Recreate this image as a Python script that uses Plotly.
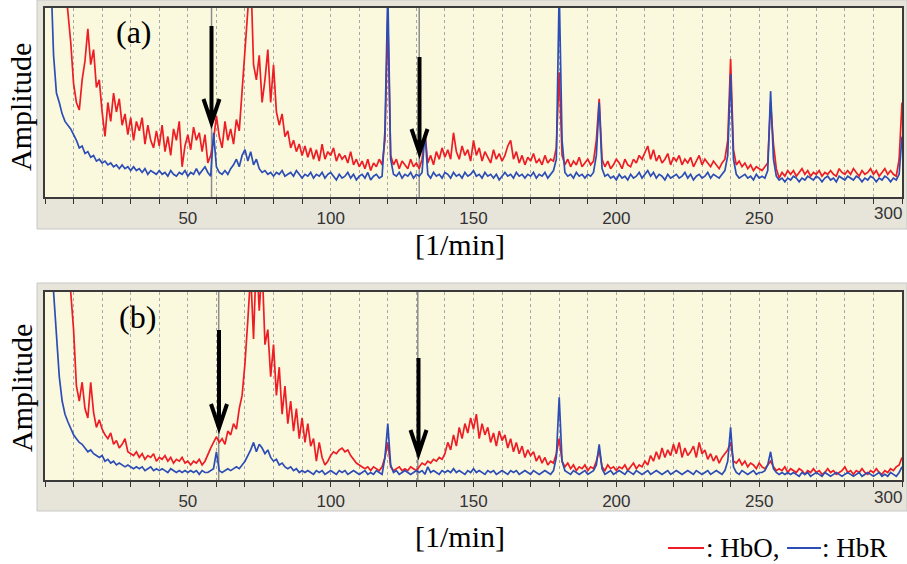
import plotly.graph_objects as go

W, H = 907, 564

# ---------------- data (normalised amplitude, 0 = axis bottom, 1 = axis top) -------------
freq = list(range(1, 301))  # [1/min]

hbo_a = [
    1.6, 1.6, 1.6, 1.5, 1.4, 1.3, 1.15, 0.98, 0.82, 0.6,
    0.5, 0.46, 0.62, 0.72, 0.89, 0.7, 0.78, 0.58, 0.62, 0.45,
    0.32, 0.5, 0.4, 0.55, 0.45, 0.52, 0.38, 0.44, 0.33, 0.42,
    0.3, 0.4, 0.35, 0.42, 0.28, 0.38, 0.3, 0.26, 0.35, 0.27,
    0.38, 0.24, 0.32, 0.22, 0.36, 0.3, 0.4, 0.16, 0.27, 0.33,
    0.25, 0.37, 0.3, 0.34, 0.24, 0.33, 0.18, 0.22, 0.3, 0.43,
    0.32, 0.26, 0.4, 0.3, 0.36, 0.28, 0.41, 0.35, 0.55, 0.8,
    0.95, 1.2, 0.7, 0.62, 0.75, 0.5, 0.62, 0.78, 0.5, 0.7,
    0.45, 0.38, 0.44, 0.32, 0.35, 0.26, 0.3, 0.24, 0.28, 0.22,
    0.27, 0.21, 0.26, 0.2, 0.25, 0.19, 0.28, 0.2, 0.24, 0.22,
    0.26, 0.19, 0.23, 0.2, 0.22, 0.18, 0.24, 0.17, 0.2, 0.16,
    0.19, 0.15, 0.2, 0.14, 0.18, 0.16, 0.2, 0.17, 0.3, 0.95,
    0.22, 0.17, 0.2, 0.15, 0.19, 0.17, 0.15, 0.2, 0.16, 0.18,
    0.15, 0.2, 0.34, 0.18, 0.22, 0.17, 0.24, 0.2, 0.26, 0.21,
    0.25, 0.2, 0.34, 0.24, 0.2, 0.27, 0.22, 0.25, 0.19, 0.3,
    0.22, 0.26, 0.19, 0.24, 0.21, 0.18, 0.25, 0.2, 0.23, 0.19,
    0.22, 0.27, 0.3, 0.2, 0.24, 0.18, 0.22, 0.17, 0.21, 0.19,
    0.23, 0.18, 0.2, 0.17, 0.22, 0.18, 0.2, 0.19, 0.26, 0.66,
    0.22, 0.17, 0.2, 0.16, 0.19, 0.17, 0.21, 0.16, 0.18, 0.2,
    0.17, 0.19, 0.3, 0.52, 0.2, 0.16, 0.19, 0.15, 0.17, 0.2,
    0.18, 0.15, 0.2, 0.17, 0.16, 0.2, 0.18, 0.22, 0.2, 0.24,
    0.27, 0.2, 0.25, 0.19, 0.22, 0.18, 0.2, 0.23, 0.17, 0.21,
    0.19, 0.22, 0.17, 0.2, 0.18, 0.21, 0.16, 0.19, 0.22, 0.17,
    0.2, 0.18, 0.16, 0.19, 0.17, 0.15, 0.18, 0.2, 0.3, 0.73,
    0.25, 0.17, 0.19, 0.16, 0.18, 0.15, 0.17, 0.14, 0.16, 0.15,
    0.14, 0.16, 0.18, 0.5, 0.28, 0.15, 0.1, 0.13, 0.11, 0.14,
    0.12, 0.14, 0.11, 0.13, 0.15, 0.12, 0.14, 0.11, 0.13, 0.12,
    0.14, 0.11, 0.13, 0.12, 0.14, 0.12, 0.11, 0.15, 0.13, 0.12,
    0.14, 0.12, 0.15, 0.13, 0.11, 0.14, 0.12, 0.13, 0.15, 0.12,
    0.14, 0.11, 0.13, 0.15, 0.12, 0.14, 0.12, 0.11, 0.2, 0.5,
]

hbr_a = [
    1.5, 1.2, 0.75, 0.55, 0.5, 0.44, 0.4, 0.38, 0.36, 0.33,
    0.3, 0.26, 0.27, 0.23, 0.24, 0.21, 0.22, 0.19, 0.2, 0.18,
    0.19, 0.17, 0.18, 0.16, 0.17, 0.15, 0.17, 0.15, 0.16, 0.14,
    0.16, 0.14, 0.15, 0.13, 0.15, 0.12, 0.14, 0.13, 0.12, 0.14,
    0.12, 0.13, 0.11, 0.14, 0.12, 0.11, 0.13, 0.12, 0.14, 0.11,
    0.13, 0.12, 0.15, 0.12, 0.14, 0.16, 0.13, 0.11, 0.34, 0.16,
    0.13, 0.12, 0.14, 0.12, 0.15, 0.17, 0.2, 0.16, 0.22, 0.25,
    0.19, 0.24, 0.17, 0.2, 0.15, 0.13, 0.14, 0.12, 0.13, 0.11,
    0.13, 0.12, 0.14, 0.11, 0.12, 0.13, 0.11, 0.14, 0.12, 0.1,
    0.12, 0.11, 0.13, 0.1, 0.12, 0.11, 0.13, 0.1, 0.12, 0.13,
    0.11, 0.09, 0.12, 0.1, 0.11, 0.13, 0.1, 0.12, 0.09, 0.11,
    0.12, 0.1, 0.13, 0.09, 0.11, 0.12, 0.1, 0.11, 0.35, 1.1,
    0.2, 0.12, 0.11, 0.13, 0.1, 0.12, 0.11, 0.13, 0.1, 0.12,
    0.11, 0.13, 0.34, 0.12, 0.1, 0.13, 0.11, 0.12, 0.1, 0.13,
    0.12, 0.1, 0.13, 0.11, 0.12, 0.1, 0.13, 0.11, 0.12, 0.14,
    0.11, 0.12, 0.1, 0.13, 0.11, 0.12, 0.1, 0.12, 0.09, 0.11,
    0.13, 0.11, 0.12, 0.1, 0.13, 0.11, 0.12, 0.1, 0.12, 0.11,
    0.13, 0.1, 0.12, 0.11, 0.13, 0.1, 0.12, 0.14, 0.2, 1.1,
    0.3, 0.13, 0.11, 0.12, 0.1, 0.13, 0.11, 0.12, 0.1, 0.12,
    0.11, 0.13, 0.22, 0.5, 0.15, 0.11, 0.12, 0.1, 0.11, 0.09,
    0.12, 0.1, 0.11, 0.09, 0.12, 0.1, 0.11, 0.13, 0.1, 0.12,
    0.14, 0.11, 0.13, 0.1, 0.12, 0.11, 0.09, 0.12, 0.1, 0.11,
    0.12, 0.1, 0.11, 0.13, 0.1, 0.12, 0.09, 0.11, 0.12, 0.1,
    0.11, 0.13, 0.1, 0.12, 0.11, 0.1, 0.12, 0.14, 0.22, 0.65,
    0.2, 0.12, 0.1, 0.11, 0.12, 0.1, 0.11, 0.09, 0.12, 0.1,
    0.11, 0.1, 0.14, 0.56, 0.2, 0.11, 0.09, 0.1, 0.08, 0.1,
    0.09, 0.11, 0.1, 0.08, 0.1, 0.09, 0.11, 0.1, 0.09, 0.11,
    0.1, 0.08, 0.1, 0.11, 0.09, 0.1, 0.08, 0.11, 0.1, 0.09,
    0.11, 0.1, 0.09, 0.11, 0.1, 0.08, 0.1, 0.09, 0.11, 0.1,
    0.08, 0.1, 0.09, 0.11, 0.1, 0.08, 0.1, 0.09, 0.12, 0.32,
]

hbo_b = [
    1.6, 1.6, 1.6, 1.6, 1.5, 1.4, 1.3, 1.15, 1.0, 0.8,
    0.5, 0.42, 0.52, 0.38, 0.33, 0.52, 0.36, 0.28, 0.32, 0.27,
    0.24, 0.22, 0.25, 0.19, 0.21, 0.17, 0.19, 0.22, 0.15, 0.14,
    0.13, 0.15, 0.12, 0.14, 0.11, 0.13, 0.12, 0.14, 0.1, 0.12,
    0.11, 0.13, 0.1, 0.12, 0.09, 0.11, 0.1, 0.12, 0.09, 0.1,
    0.08, 0.1, 0.09, 0.11, 0.08, 0.1, 0.14, 0.17, 0.2, 0.23,
    0.2, 0.22, 0.19, 0.26, 0.24, 0.3, 0.27, 0.38, 0.45, 0.62,
    0.85, 1.1, 0.75, 1.2, 0.9, 1.15, 0.72, 0.8, 0.55, 0.72,
    0.45, 0.6, 0.35, 0.5, 0.3, 0.42, 0.26, 0.38, 0.22, 0.33,
    0.2, 0.3, 0.18, 0.22, 0.1, 0.2, 0.12, 0.08, 0.1, 0.13,
    0.15, 0.14, 0.16, 0.17, 0.15, 0.16, 0.13, 0.11, 0.09, 0.08,
    0.07, 0.06, 0.07, 0.05, 0.07, 0.06, 0.05, 0.07, 0.12, 0.2,
    0.07, 0.05, 0.06, 0.07, 0.05, 0.06, 0.05, 0.07, 0.06, 0.05,
    0.07, 0.09, 0.08, 0.1, 0.09, 0.11, 0.1, 0.12, 0.11, 0.14,
    0.2, 0.16, 0.24, 0.18, 0.28, 0.22, 0.3, 0.25, 0.33, 0.27,
    0.35, 0.22, 0.3, 0.24, 0.28, 0.2, 0.25, 0.18, 0.26, 0.21,
    0.24, 0.17, 0.22, 0.15, 0.2, 0.14, 0.18, 0.12, 0.16, 0.13,
    0.15, 0.1, 0.13, 0.09, 0.12, 0.08, 0.1, 0.09, 0.14, 0.22,
    0.1, 0.07, 0.09, 0.06, 0.08, 0.05, 0.07, 0.06, 0.08, 0.05,
    0.07, 0.06, 0.1, 0.16, 0.07, 0.05, 0.08, 0.06, 0.07, 0.05,
    0.07, 0.06, 0.08, 0.05, 0.07, 0.09, 0.06, 0.08, 0.07, 0.1,
    0.08, 0.13, 0.1, 0.15, 0.11, 0.17, 0.12, 0.16, 0.13, 0.19,
    0.14, 0.2, 0.12, 0.17, 0.13, 0.15, 0.18, 0.12, 0.2, 0.14,
    0.16, 0.11, 0.14, 0.1, 0.13, 0.09, 0.12, 0.14, 0.16, 0.2,
    0.1, 0.09, 0.11, 0.08, 0.1, 0.07, 0.09, 0.08, 0.06, 0.09,
    0.07, 0.06, 0.08, 0.1, 0.07, 0.05, 0.06, 0.05, 0.07, 0.04,
    0.06, 0.05, 0.04, 0.06, 0.05, 0.03, 0.05, 0.04, 0.06, 0.04,
    0.05, 0.03, 0.04, 0.06, 0.04, 0.05, 0.03, 0.04, 0.05, 0.07,
    0.04, 0.05, 0.03, 0.05, 0.04, 0.06, 0.04, 0.03, 0.05, 0.04,
    0.06, 0.04, 0.03, 0.05, 0.04, 0.06, 0.05, 0.07, 0.08, 0.12,
]

hbr_b = [
    1.6, 1.4, 1.0, 0.75, 0.55, 0.42, 0.35, 0.31, 0.27, 0.24,
    0.22, 0.2, 0.19, 0.17, 0.15, 0.16, 0.14, 0.13, 0.12, 0.13,
    0.1, 0.11, 0.09, 0.1, 0.08, 0.09, 0.08, 0.07, 0.08, 0.07,
    0.06, 0.07, 0.06, 0.07, 0.05, 0.06, 0.07, 0.05, 0.06, 0.05,
    0.06, 0.05, 0.04, 0.06, 0.05, 0.04, 0.05, 0.04, 0.05, 0.04,
    0.05, 0.04, 0.05, 0.03, 0.05, 0.04, 0.04, 0.05, 0.06, 0.15,
    0.05, 0.04, 0.05, 0.06, 0.05, 0.06, 0.07, 0.06, 0.08, 0.1,
    0.13, 0.16, 0.2, 0.15, 0.19, 0.17, 0.14, 0.16, 0.12, 0.1,
    0.11, 0.08, 0.09, 0.07, 0.06, 0.07, 0.05, 0.06, 0.04, 0.05,
    0.04, 0.05, 0.04, 0.03, 0.05, 0.04, 0.05, 0.03, 0.04, 0.05,
    0.04, 0.03, 0.05, 0.04, 0.05, 0.03, 0.04, 0.05, 0.04, 0.03,
    0.04, 0.05, 0.03, 0.04, 0.03, 0.05, 0.04, 0.03, 0.12, 0.3,
    0.08, 0.04, 0.05, 0.03, 0.04, 0.05, 0.04, 0.03, 0.04, 0.05,
    0.04, 0.05, 0.03, 0.07, 0.04, 0.05, 0.04, 0.03, 0.05, 0.04,
    0.05, 0.04, 0.06, 0.04, 0.05, 0.04, 0.03, 0.05, 0.04, 0.06,
    0.04, 0.05, 0.04, 0.03, 0.05, 0.04, 0.05, 0.03, 0.04, 0.05,
    0.04, 0.03, 0.05, 0.04, 0.05, 0.03, 0.04, 0.05, 0.04, 0.03,
    0.05, 0.04, 0.03, 0.04, 0.05, 0.04, 0.03, 0.05, 0.12, 0.44,
    0.1, 0.05, 0.04, 0.03, 0.05, 0.04, 0.03, 0.04, 0.05, 0.03,
    0.04, 0.05, 0.08, 0.19, 0.06, 0.03, 0.04, 0.05, 0.03, 0.04,
    0.05, 0.04, 0.03, 0.05, 0.04, 0.03, 0.05, 0.04, 0.03, 0.04,
    0.05, 0.03, 0.04, 0.05, 0.04, 0.03, 0.04, 0.05, 0.03, 0.04,
    0.05, 0.04, 0.03, 0.04, 0.05, 0.04, 0.03, 0.05, 0.04, 0.03,
    0.04, 0.05, 0.03, 0.04, 0.05, 0.04, 0.03, 0.05, 0.1, 0.28,
    0.07, 0.04, 0.03, 0.05, 0.04, 0.03, 0.04, 0.05, 0.03, 0.04,
    0.04, 0.05, 0.08, 0.15, 0.06, 0.04, 0.03, 0.04, 0.03, 0.04,
    0.03, 0.04, 0.03, 0.02, 0.04, 0.03, 0.04, 0.02, 0.03, 0.04,
    0.03, 0.02, 0.04, 0.03, 0.02, 0.03, 0.04, 0.03, 0.02, 0.03,
    0.04, 0.03, 0.02, 0.03, 0.04, 0.02, 0.03, 0.04, 0.03, 0.02,
    0.03, 0.04, 0.02, 0.03, 0.02, 0.04, 0.03, 0.02, 0.04, 0.07,
]

tick_values = list(range(0, 301, 10))
tick_labels = [str(v) if (v % 50 == 0 and v > 0) else "" for v in tick_values]
edge_label = tick_labels[-1]          # "300", drawn inside the frame edge
axis_labels = tick_labels[:-1] + [""]

marker_a = [58.3, 131]     # vertical reference lines, panel (a)
marker_b = [60.8, 130.5]   # vertical reference lines, panel (b)

# ---------------- styling ----------------
RED = "#EE1D25"
BLUE = "#2D4DB6"
CREAM = "#FBF9DD"
FRAME = "#E7E4D9"
SERIF = "Liberation Serif, Times New Roman, serif"
SANS = "Liberation Sans, Arial, sans-serif"


def px(x):
    return x / W


def py(y):
    return 1 - y / H


XDOM = [px(45), px(902)]
YDOM_A = [py(197), py(8)]
YDOM_B = [py(480), py(292)]

fig = go.Figure()

for xa, ya, red, blue in (("x", "y", hbo_a, hbr_a), ("x2", "y2", hbo_b, hbr_b)):
    fig.add_trace(go.Scatter(x=freq, y=red, mode="lines", xaxis=xa, yaxis=ya,
                             line=dict(color=RED, width=1.7), name="HbO", showlegend=False))
    fig.add_trace(go.Scatter(x=freq, y=blue, mode="lines", xaxis=xa, yaxis=ya,
                             line=dict(color=BLUE, width=1.7), name="HbR", showlegend=False))

xaxis_common = dict(
    range=[0, 300], tickmode="array", tickvals=tick_values, ticktext=axis_labels,
    ticks="outside", ticklen=5, tickwidth=1.2, tickcolor="#333333",
    tickfont=dict(family=SANS, size=17, color="#333333"),
    showgrid=True, gridcolor="#A8A8A8", gridwidth=1, griddash="3px,3px",
    showline=True, mirror=True, linecolor="#3A3A3A", linewidth=1.5,
    zeroline=False, domain=XDOM, fixedrange=True,
)
yaxis_common = dict(
    range=[0, 1], showticklabels=False, ticks="", showgrid=False, zeroline=False,
    showline=True, mirror=True, linecolor="#3A3A3A", linewidth=1.5, fixedrange=True,
)

shapes = [
    # grey panel frames
    dict(type="rect", xref="paper", yref="paper", x0=px(37), x1=1.0, y0=py(229), y1=1.0,
         fillcolor=FRAME, line=dict(color="#C8C8C8", width=1), layer="below"),
    dict(type="rect", xref="paper", yref="paper", x0=px(37), x1=1.0, y0=py(511), y1=py(283),
         fillcolor=FRAME, line=dict(color="#C8C8C8", width=1), layer="below"),
    # cream plot areas
    dict(type="rect", xref="paper", yref="paper", x0=XDOM[0], x1=XDOM[1], y0=YDOM_A[0], y1=YDOM_A[1],
         fillcolor=CREAM, line=dict(width=0), layer="below"),
    dict(type="rect", xref="paper", yref="paper", x0=XDOM[0], x1=XDOM[1], y0=YDOM_B[0], y1=YDOM_B[1],
         fillcolor=CREAM, line=dict(width=0), layer="below"),
]
for m in marker_a:
    shapes.append(dict(type="line", xref="x", yref="y domain", x0=m, x1=m, y0=0, y1=1,
                       line=dict(color="#8C8C8C", width=1.5), layer="below"))
for m in marker_b:
    shapes.append(dict(type="line", xref="x2", yref="y2 domain", x0=m, x1=m, y0=0, y1=1,
                       line=dict(color="#8C8C8C", width=1.5), layer="below"))


def arrow(xp, ytop, ytip, half=8, head=24):
    path = (f"M{px(xp)},{py(ytop)} L{px(xp)},{py(ytip)} "
            f"M{px(xp - half)},{py(ytip - head)} L{px(xp)},{py(ytip)} L{px(xp + half)},{py(ytip - head)}")
    return dict(type="path", xref="paper", yref="paper", path=path,
                line=dict(color="black", width=4), layer="above")


shapes += [arrow(211.5, 26, 123), arrow(419.5, 57, 153), arrow(219, 330, 428), arrow(418.5, 358, 454)]

# legend line samples
shapes += [
    dict(type="line", xref="paper", yref="paper", x0=px(668), x1=px(704), y0=py(548), y1=py(548),
         line=dict(color=RED, width=2)),
    dict(type="line", xref="paper", yref="paper", x0=px(787), x1=px(821), y0=py(548), y1=py(548),
         line=dict(color=BLUE, width=2)),
]


def label(text, x, y, size, angle=0, xanchor="center", family=SERIF, color="black"):
    return dict(text=text, x=px(x), y=py(y), xref="paper", yref="paper", showarrow=False,
                xanchor=xanchor, yanchor="middle", textangle=angle,
                font=dict(family=family, size=size, color=color))


annotations = [
    label("(a)", 134, 32, 32),
    label("(b)", 137, 317, 32),
    label("Amplitude", 21, 107, 30, angle=-90),
    label("Amplitude", 21, 388, 30, angle=-90),
    label("[1/min]", 460, 244, 30),
    label("[1/min]", 460, 536, 30),
    label(": HbO,", 704, 548, 27, xanchor="left"),
    label(": HbR", 820, 548, 27, xanchor="left"),
    label(edge_label, 904, 214, 17, xanchor="right", family=SANS, color="#333333"),
    label(edge_label, 904, 497, 17, xanchor="right", family=SANS, color="#333333"),
]

fig.update_layout(
    width=W, height=H, autosize=False,
    margin=dict(l=0, r=0, t=0, b=0),
    paper_bgcolor="white", plot_bgcolor="rgba(0,0,0,0)",
    xaxis=dict(**xaxis_common, anchor="y"),
    yaxis=dict(**yaxis_common, domain=YDOM_A, anchor="x"),
    xaxis2=dict(**xaxis_common, anchor="y2"),
    yaxis2=dict(**yaxis_common, domain=YDOM_B, anchor="x2"),
    shapes=shapes, annotations=annotations, showlegend=False,
)

fig.write_html(
    "out.html",
    config={"displayModeBar": False},
    post_script="document.body.style.margin='0';document.body.style.padding='0';"
                "document.body.style.overflow='hidden';",
)
